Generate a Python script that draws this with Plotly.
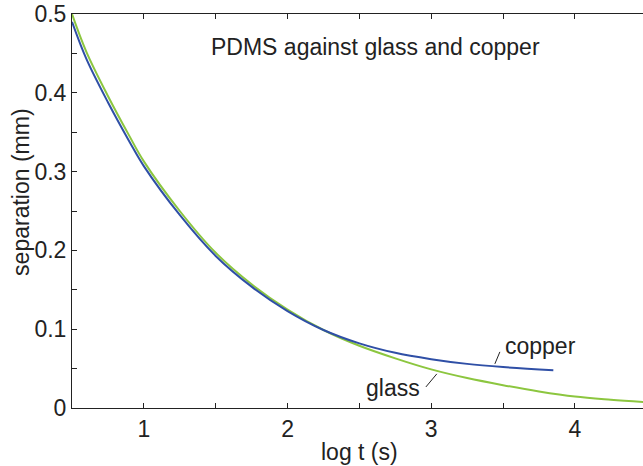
import plotly.graph_objects as go

# log t (s) vs separation (mm)
glass_x = [0.50, 0.60, 0.75, 0.90, 1.00, 1.25, 1.50, 1.75, 2.00, 2.25, 2.50, 2.75, 3.00, 3.25, 3.50, 3.75, 4.00, 4.25, 4.50]
glass_y = [0.500, 0.452, 0.396, 0.345, 0.313, 0.250, 0.197, 0.157, 0.125, 0.099, 0.079, 0.063, 0.049, 0.038, 0.029, 0.021, 0.0145, 0.0105, 0.0073]

copper_x = [0.50, 0.60, 0.75, 0.90, 1.00, 1.25, 1.50, 1.75, 2.00, 2.25, 2.50, 2.75, 3.00, 3.25, 3.50, 3.85]
copper_y = [0.490, 0.443, 0.388, 0.338, 0.307, 0.245, 0.193, 0.154, 0.123, 0.099, 0.082, 0.070, 0.062, 0.056, 0.052, 0.048]

x_tickvals = [0.5, 1, 1.5, 2, 2.5, 3, 3.5, 4, 4.5]
x_ticktext = ["", "1", "", "2", "", "3", "", "4", ""]
y_tickvals = [0, 0.05, 0.1, 0.15, 0.2, 0.25, 0.3, 0.35, 0.4, 0.45, 0.5]
y_ticktext = ["0", "", "0.1", "", "0.2", "", "0.3", "", "0.4", "", "0.5"]

GREEN = "#8CC63F"
BLUE = "#2F4FA6"
INK = "#222222"
FONT = "Liberation Sans, Arial, Helvetica, sans-serif"

fig = go.Figure()
fig.add_trace(go.Scatter(x=glass_x, y=glass_y, mode="lines", name="glass",
                         line=dict(color=GREEN, width=2, shape="spline", smoothing=1.0)))
fig.add_trace(go.Scatter(x=copper_x, y=copper_y, mode="lines", name="copper",
                         line=dict(color=BLUE, width=2, shape="spline", smoothing=1.0)))

fig.update_layout(
    width=643, height=466,
    margin=dict(l=72, r=0, t=14, b=58),
    paper_bgcolor="white", plot_bgcolor="white",
    showlegend=False,
    font=dict(family=FONT, size=23, color=INK),
    xaxis=dict(range=[0.5, 4.474], tickvals=x_tickvals, ticktext=x_ticktext,
               ticks="inside", ticklen=5, tickcolor=INK, tickwidth=1,
               showline=True, linecolor=INK, linewidth=1, mirror="ticks",
               showgrid=False, zeroline=False),
    yaxis=dict(range=[0, 0.5], tickvals=y_tickvals, ticktext=y_ticktext,
               ticks="inside", ticklen=5, tickcolor=INK, tickwidth=1,
               showline=True, linecolor=INK, linewidth=1, mirror=False,
               showgrid=False, zeroline=False),
    yaxis2=dict(range=[0, 0.5], tickvals=y_tickvals, overlaying="y", side="right",
                showticklabels=False, ticks="inside", ticklen=2, tickcolor=INK,
                showline=False, showgrid=False, zeroline=False),
)

fig.add_annotation(text="PDMS against glass and copper", xref="paper", yref="paper",
                   x=0.532, y=0.916, xanchor="center", yanchor="middle", showarrow=False)
fig.add_annotation(text="log t (s)", xref="paper", yref="paper",
                   x=0.504, y=-0.112, xanchor="center", yanchor="middle", showarrow=False)
fig.add_annotation(text="separation (mm)", xref="paper", yref="paper", textangle=-90,
                   x=-0.0893, y=0.546, xanchor="center", yanchor="middle", showarrow=False)
fig.add_annotation(text="copper", x=3.763, y=0.0789, xanchor="center", yanchor="middle", showarrow=False)
fig.add_annotation(text="glass", x=2.731, y=0.0254, xanchor="center", yanchor="middle", showarrow=False)

fig.add_shape(type="line", x0=2.963, y0=0.0267, x1=3.039, y1=0.0433, line=dict(color=INK, width=1))
fig.add_shape(type="line", x0=3.443, y0=0.056, x1=3.478, y1=0.0712, line=dict(color=INK, width=1))

fig.write_html("out.html")
